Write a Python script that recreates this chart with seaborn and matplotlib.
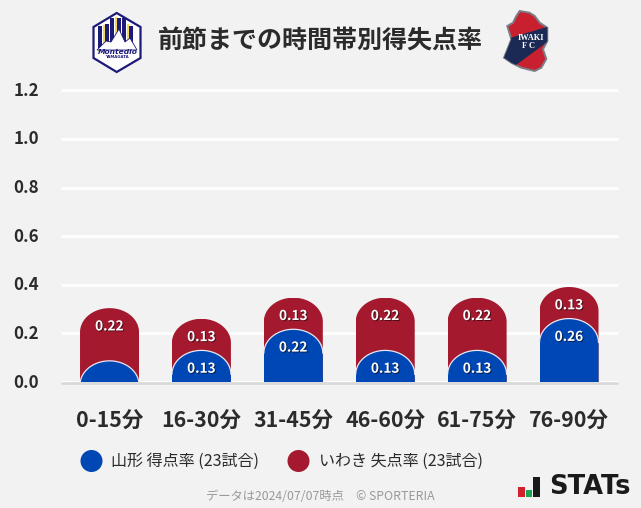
import numpy as np
import pandas as pd
import seaborn as sns
import matplotlib.pyplot as plt
import matplotlib.patheffects as pe
from matplotlib.path import Path
from matplotlib.patches import Polygon, Circle, Rectangle
from matplotlib.transforms import ScaledTranslation

periods = ['0-15分', '16-30分', '31-45分', '46-60分', '61-75分', '76-90分']
goals_for = [0.087, 0.130, 0.217, 0.130, 0.130, 0.261]
goals_against = [0.217, 0.130, 0.130, 0.217, 0.217, 0.130]
y_ticks = [0.0, 0.2, 0.4, 0.6, 0.8, 1.0, 1.2]
title = '前節までの時間帯別得失点率'
legend_for = '山形 得点率 (23試合)'
legend_against = 'いわき 失点率 (23試合)'
footer = 'データは2024/07/07時点\u3000© SPORTERIA'

BLUE = '#0047b6'
RED = '#a5192f'
BG = '#f2f2f2'
INK = '#2b2b2b'
W, H = 641, 508

sns.set_theme(style='white')
plt.rcParams['font.family'] = ['Noto Sans CJK JP', 'DejaVu Sans']

df = pd.DataFrame({'period': periods, 'gf': goals_for, 'ga': goals_against})
df['total'] = df['gf'] + df['ga']

fig = plt.figure(figsize=(W / 100, H / 100), dpi=100, facecolor=BG)
ax = fig.add_axes([61 / W, 1 - 382 / H, 557 / W, 291.6 / H], facecolor=BG)

sns.barplot(data=df, x='period', y='total', color=RED, saturation=1, width=0.642, ax=ax)
sns.barplot(data=df, x='period', y='gf', color=BLUE, saturation=1, width=0.642, ax=ax)

# spine position resets the ticks, so it goes before the tick styling
for side in ['top', 'left', 'right']:
    ax.spines[side].set_visible(False)
ax.spines['bottom'].set_color('#d9d9d9')
ax.spines['bottom'].set_linewidth(2)
ax.spines['bottom'].set_capstyle('butt')
ax.spines['bottom'].set_position(('outward', 0.5))

ax.set_xlim(-0.528, 5.533)
ax.set_ylim(0, 1.2)
ax.set_xlabel('')
ax.set_ylabel('')
ax.set_yticks(y_ticks)
ax.set_yticklabels([f'{t:.1f}' for t in y_ticks], fontsize=12.2, fontweight='bold', color=INK)
ax.set_xticks(range(len(periods)))
ax.set_xticklabels(periods, fontsize=15.4, fontweight='bold', color=INK)
ax.tick_params(axis='y', length=0, pad=16)
ax.tick_params(axis='x', length=0, pad=20)

# tick labels sit slightly higher in the original
nudge = ScaledTranslation(0, 1.5 / 100, fig.dpi_scale_trans)
for lab in ax.get_yticklabels():
    lab.set_transform(lab.get_transform() + nudge)

ax.yaxis.grid(True, color='white', lw=2)
ax.set_axisbelow(True)
for gl in ax.get_ygridlines():
    gl.set_clip_on(False)
    gl.set_solid_capstyle('butt')

# round the bar tops, corners are 24px tall in the original
ry = 24 / 243
theta = np.linspace(np.pi, 0, 60)
for cont, outline in zip(ax.containers, [False, True]):
    for bar in cont:
        x0, w, top = bar.get_x(), bar.get_width(), bar.get_height()
        ax_x = x0 + w / 2 + w / 2 * np.cos(theta)
        ax_y = top - ry + ry * np.sin(theta)
        verts = list(zip(ax_x, ax_y)) + [(x0 + w, -0.1), (x0, -0.1), (x0, ax_y[0])]
        codes = [Path.MOVETO] + [Path.LINETO] * (len(verts) - 2) + [Path.CLOSEPOLY]
        bar.set_clip_path(Path(verts, codes), ax.transData)
        bar.set_linewidth(0)
        if outline:
            ax.plot(ax_x, ax_y, color='#e8e8f0', lw=0.9, zorder=bar.get_zorder() + 0.1)


def put_label(x, top, val):
    ax.annotate(f'{val:.2f}', (x, top), xytext=(0, -13.2), textcoords='offset points',
                ha='center', va='center', fontsize=9.8, fontweight='bold', color='white',
                zorder=6, path_effects=[pe.withSimplePatchShadow(offset=(0.7, -0.7),
                                                                 shadow_rgbFace='black', alpha=0.55)])


for i, (f, a) in enumerate(zip(goals_for, goals_against)):
    put_label(i, f + a, a)
    if f > 0.1:
        put_label(i, f, f)

# overlay in pixel coordinates for header, legend and footer
ov = fig.add_axes([0, 0, 1, 1], facecolor='none', zorder=10)
ov.set_xlim(0, W)
ov.set_ylim(H, 0)
ov.axis('off')

ov.text(320.8, 41, title, ha='center', va='center', fontsize=18, fontweight='bold', color=INK)

ov.add_patch(Circle((91.5, 461), 11, fc=BLUE, ec='none'))
ov.text(111, 461, legend_for, ha='left', va='center', fontsize=11.55, color=INK)
ov.add_patch(Circle((298.5, 461), 11, fc=RED, ec='none'))
ov.text(319, 461, legend_against, ha='left', va='center', fontsize=11.55, color=INK)
ov.text(320.5, 497, footer, ha='center', va='center', fontsize=8.85, color='#999999')

# Montedio badge
NAVY = '#1d1a78'
hexagon = [(116.7, 13), (140.5, 27), (140.5, 58), (116.7, 72), (93.5, 58), (93.5, 27)]
hex_patch = Polygon(hexagon, closed=True, fc='white', ec=NAVY, lw=1.6, zorder=2)
ov.add_patch(hex_patch)
for xs, col, top in [(98, NAVY, 26), (103, '#f2d94e', 25), (105, NAVY, 24), (110, NAVY, 18),
                     (115, '#f2d94e', 17), (117, NAVY, 18), (122, NAVY, 18), (127, '#f2d94e', 24),
                     (129, NAVY, 26)]:
    width = 2 if col != NAVY else 4
    ov.add_patch(Rectangle((xs, top), width, 48 - top, fc=col, ec='none', zorder=2.2))
ov.add_patch(Polygon([(97, 50), (106, 41), (111, 42), (119, 29), (125, 42), (130, 38), (137, 50)],
                     closed=True, fc='white', ec=NAVY, lw=0.6, zorder=2.4))
ov.text(118, 51.5, 'Montedio', ha='center', va='center', fontsize=5.4, fontstyle='italic',
        fontweight='bold', color=NAVY, family='DejaVu Sans', zorder=3)
ov.text(117, 57, 'YAMAGATA', ha='center', va='center', fontsize=2.8, fontweight='bold',
        color=NAVY, family='DejaVu Sans', zorder=3)

# Iwaki badge
outline_pts = [(519.7, 11), (529.5, 12.7), (534.7, 16), (539.7, 22.7), (547.3, 27.7), (547.3, 41),
               (543, 49.3), (546.3, 59), (541.3, 67.7), (534.7, 71), (521.3, 67.7), (511.3, 62.7),
               (504, 57.7), (508, 47.7), (511.3, 39.3), (507.3, 26), (513, 22.7), (516.3, 16)]
shield = Polygon(outline_pts, closed=True, fc='#c8202f', ec='#7d7d8a', lw=1.4, zorder=2)
ov.add_patch(shield)
band = Polygon([(500, 41), (550, 26), (550, 40), (516, 65), (500, 62)], closed=True,
               fc='#1b2a55', ec='none', zorder=2.2)
ov.add_patch(band)
band.set_clip_path(shield)
ov.text(530.5, 38, 'IWAKI', ha='center', va='center', fontsize=6, fontweight='bold', color='white',
        family='Liberation Serif', zorder=3)
ov.text(529, 45.5, 'F C', ha='center', va='center', fontsize=6, fontweight='bold', color='white',
        family='Liberation Serif', zorder=3)

# STATs mark
ov.add_patch(Rectangle((518, 487), 7, 10, fc='#d4202c', ec='none'))
ov.add_patch(Rectangle((526, 490), 6, 7, fc='#1aa550', ec='none'))
ov.add_patch(Rectangle((533, 477), 7, 20, fc='#1a1a1a', ec='none'))
ov.text(549, 487, 'STATs', ha='left', va='center', fontsize=18.5, fontweight='bold',
        color='#1a1a1a', family='DejaVu Sans')

fig.savefig('out.png', dpi=100, facecolor=BG)
